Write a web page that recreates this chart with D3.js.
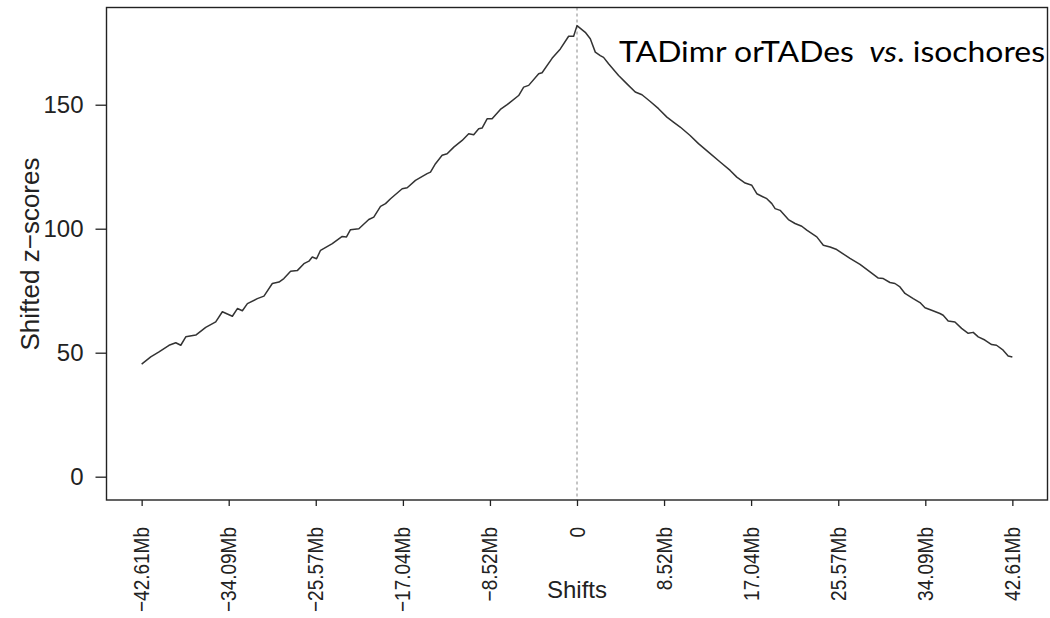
<!DOCTYPE html>
<html>
<head>
<meta charset="utf-8">
<script src="https://cdn.jsdelivr.net/npm/d3@7"></script>
<style>
  body { margin: 0; background: #fff; }
  svg { display: block; }
</style>
</head>
<body>
<div id="svg_container"></div>
<script>
/* -----------------------
data
------------------------- */

var shiftMb = [-42.61, -41.72, -40.91, -39.93, -39.27, -38.78, -38.29, -37.31, -36.34, -35.36,
  -34.71, -33.73, -33.24, -32.75, -32.26, -31.29, -30.64, -29.82, -29.17, -28.69,
  -28.03, -27.38, -26.73, -26.24, -25.91, -25.49, -25.10, -23.95, -22.98, -22.56,
  -22.17, -21.35, -20.38, -19.89, -19.23, -18.74, -18.25, -17.11, -16.62, -15.81,
  -14.67, -14.34, -13.85, -13.20, -12.71, -12.06, -11.24, -10.60, -10.11, -9.62,
  -9.29, -8.80, -8.31, -7.50, -6.84, -5.71, -5.22, -4.73, -3.75, -3.42,
  -2.44, -1.63, -0.82, -0.33, 0, 0.81, 1.30, 1.79, 2.28, 2.60,
  3.09, 4.07, 4.89, 5.70, 6.36, 7.17, 7.98, 8.80, 9.44, 10.10,
  11.07, 11.89, 12.87, 14.01, 14.99, 15.64, 16.46, 17.11, 17.60, 18.58,
  19.07, 19.39, 19.88, 20.69, 21.34, 22.00, 22.49, 23.47, 24.11, 24.77,
  25.42, 26.72, 27.70, 28.68, 29.49, 29.98, 30.63, 31.12, 31.61, 32.10,
  32.91, 33.57, 34.06, 34.71, 35.52, 35.84, 36.33, 36.99, 37.64, 38.29,
  38.78, 39.27, 39.92, 40.58, 41.06, 41.71, 42.20, 42.61];

var zScores = [45.4, 48.3, 50.3, 53.0, 54.0, 53.0, 56.4, 57.1, 60.2, 62.4,
  66.5, 64.7, 67.8, 66.9, 69.8, 71.8, 72.8, 77.9, 78.5, 79.9,
  82.8, 83.1, 85.9, 86.9, 88.6, 87.9, 91.3, 94.0, 96.9, 96.7,
  99.6, 100.0, 103.7, 104.7, 109.0, 110.1, 112.1, 116.1, 116.5, 119.5,
  122.2, 122.8, 126.2, 129.6, 130.2, 132.9, 135.6, 138.3, 137.9, 140.3,
  140.6, 144.3, 144.3, 148.1, 150.0, 153.7, 157.1, 157.8, 162.5, 162.9,
  168.7, 172.5, 177.6, 177.6, 181.9, 179.2, 176.6, 171.2, 169.8, 169.1,
  166.5, 161.8, 158.4, 155.1, 154.0, 151.3, 148.4, 145.0, 143.0, 141.0,
  137.6, 134.3, 130.9, 126.9, 123.5, 120.8, 118.4, 117.5, 114.1, 112.1,
  110.1, 108.1, 107.4, 103.7, 102.1, 101.0, 99.4, 96.7, 93.3, 92.6,
  91.6, 88.0, 85.6, 82.6, 80.1, 79.9, 78.3, 77.9, 76.5, 73.9,
  71.8, 70.2, 68.1, 67.1, 65.8, 65.1, 62.8, 62.4, 59.8, 57.8,
  58.2, 56.4, 55.1, 53.3, 53.0, 51.0, 48.7, 48.3];

var xTicks = [-42.61, -34.09, -25.57, -17.04, -8.52, 0, 8.52, 17.04, 25.57, 34.09, 42.61];
var xTickLabels = ['\u221242.61Mb', '\u221234.09Mb', '\u221225.57Mb', '\u221217.04Mb', '\u22128.52Mb', '0',
  '8.52Mb', '17.04Mb', '25.57Mb', '34.09Mb', '42.61Mb'];
var yTicks = [0, 50, 100, 150];

/* -----------------------
main variables
------------------------- */

var width = 1050,
height = 618;

var box = {left: 106.5, right: 1047.5, top: 7.5, bottom: 500};

var font = 'Liberation Sans, Arial, sans-serif';
var c_line = '#333',
c_axis = '#222',
c_zero = '#888';

var data = shiftMb.map(function (d, i) { return {x: d, y: zScores[i]}; });

var x = d3.scaleLinear()
  .domain([-46.05, 46.05])
  .range([box.left, box.right]);

var y = d3.scaleLinear()
  .domain([-9.4, 189.2])
  .range([box.bottom, box.top]);

/* -----------------------
set plot
------------------------- */

var svg = d3.select('#svg_container')
  .append('svg')
  .attr('width', width)
  .attr('height', height);

// zero line
svg.append('line')
  .attr('x1', x(0)).attr('x2', x(0))
  .attr('y1', box.top).attr('y2', box.bottom)
  .attr('stroke', c_zero)
  .attr('stroke-width', 1)
  .attr('stroke-dasharray', '3,3');

// curve
var line = d3.line()
  .x(function (d) { return x(d.x); })
  .y(function (d) { return y(d.y); });

svg.append('path')
  .datum(data)
  .attr('d', line)
  .attr('fill', 'none')
  .attr('stroke', c_line)
  .attr('stroke-width', 1.5)
  .attr('stroke-linejoin', 'round');

// box
svg.append('rect')
  .attr('x', box.left).attr('y', box.top)
  .attr('width', box.right - box.left)
  .attr('height', box.bottom - box.top)
  .attr('fill', 'none')
  .attr('stroke', c_axis)
  .attr('stroke-width', 1.4);

/* -----------------------
axes
------------------------- */

var yAxis = d3.axisLeft(y)
  .tickValues(yTicks)
  .tickSize(11)
  .tickPadding(12);

svg.append('g')
  .attr('transform', 'translate(' + box.left + ',0)')
  .call(yAxis)
  .call(function (g) {
    g.select('.domain').remove();
    g.selectAll('line').attr('stroke', c_axis).attr('stroke-width', 1.3);
    g.selectAll('text')
      .attr('font-family', font)
      .attr('font-size', 24)
      .attr('fill', '#222');
  });

var xAxis = d3.axisBottom(x)
  .tickValues(xTicks)
  .tickSize(6)
  .tickFormat(function (d, i) { return xTickLabels[i]; });

svg.append('g')
  .attr('transform', 'translate(0,' + box.bottom + ')')
  .call(xAxis)
  .call(function (g) {
    g.select('.domain').remove();
    g.selectAll('line').attr('stroke', c_axis).attr('stroke-width', 1.3);
    g.selectAll('text')
      .attr('font-family', font)
      .attr('font-size', 19)
      .attr('fill', '#222')
      .attr('text-anchor', 'end')
      .attr('dy', null)
      .attr('y', 0)
      .attr('transform', 'translate(7,27) rotate(-90) scale(1,1.18)');
  });

// axis titles
svg.append('text')
  .attr('x', x(0))
  .attr('y', 598)
  .attr('text-anchor', 'middle')
  .attr('font-family', font)
  .attr('font-size', 24)
  .attr('fill', '#222')
  .text('Shifts');

svg.append('text')
  .attr('transform', 'translate(39,254) rotate(-90)')
  .attr('text-anchor', 'middle')
  .attr('font-family', font)
  .attr('font-size', 26)
  .attr('fill', '#222')
  .text('Shifted z\u2212scores');

// title
var title = svg.append('text')
  .attr('x', 619)
  .attr('y', 62)
  .attr('font-family', 'Lato, sans-serif')
  .attr('font-size', 29)
  .attr('fill', '#000')
  .attr('textLength', 426)
  .attr('lengthAdjust', 'spacingAndGlyphs');

title.append('tspan').text('TADimr orTADes');
title.append('tspan').attr('dx', 14).attr('font-style', 'italic').text('vs');
title.append('tspan').text('. isochores');
</script>
</body>
</html>
